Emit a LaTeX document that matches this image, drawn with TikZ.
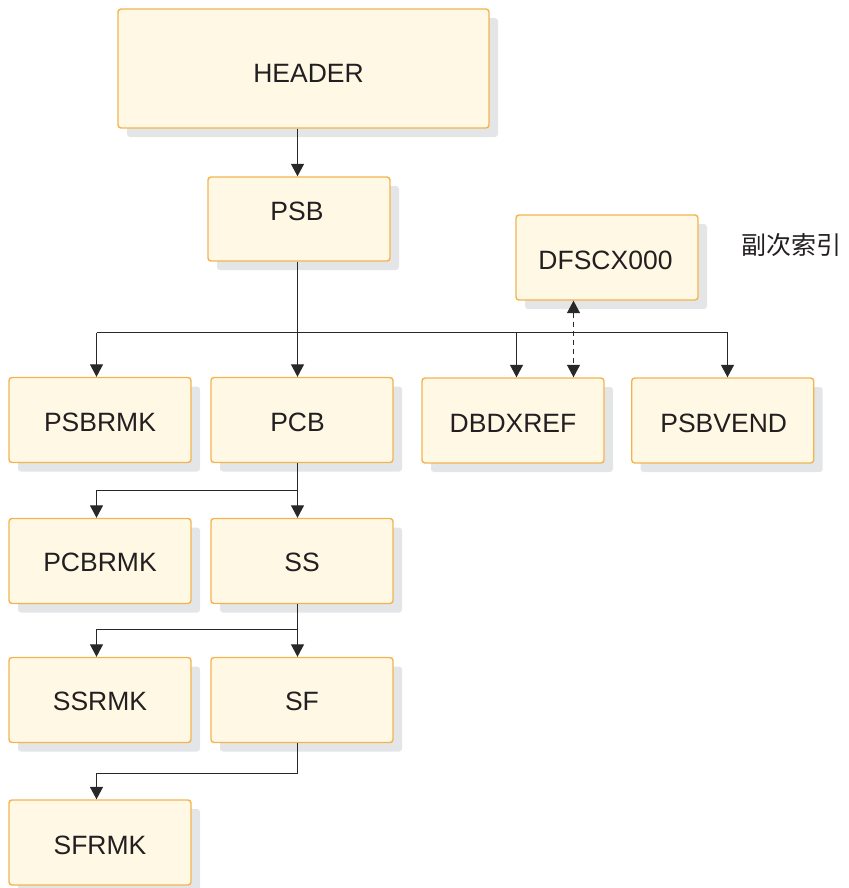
\documentclass[tikz,border=0pt]{standalone}
\usepackage{fontspec}
\setmainfont{Liberation Sans}
\newfontfamily\cjk{Noto Sans CJK SC}
\usetikzlibrary{arrows.meta,shadows}
\definecolor{boxfill}{RGB}{254,248,229}
\definecolor{boxline}{RGB}{242,180,80}
\definecolor{shadowgray}{RGB}{228,229,231}
\definecolor{ink}{RGB}{35,31,32}
\definecolor{wire}{RGB}{40,40,40}
\tikzset{
  box/.style={draw=boxline, fill=boxfill, line width=1.4pt, rounded corners=3pt,
    minimum width=182pt, minimum height=85pt, inner sep=0pt, text=ink,
    font=\fontsize{26.5}{30}\selectfont, text height=23pt, text depth=0pt,
    drop shadow={shadow xshift=9pt, shadow yshift=-9pt, fill=shadowgray, opacity=1}},
  conn/.style={draw=wire, line width=1.2pt, -{Triangle[width=13pt,length=12.5pt]}},
  wireline/.style={draw=wire, line width=1.2pt},
  dashconn/.style={draw=wire, line width=1.2pt, dash pattern=on 5pt off 4pt,
    {Triangle[width=13pt,length=12.5pt]}-{Triangle[width=13pt,length=12.5pt]}}
}
\begin{document}
\begin{tikzpicture}[x=1pt,y=-1pt]
\useasboundingbox (0,0) rectangle (848,888);
% boxes
\node[box, minimum width=371pt, minimum height=119pt, text height=28pt] (HEADER) at (303.5,68.5) {\hspace*{10pt}HEADER};
\node[box, minimum height=84pt, text height=19pt, text depth=17pt] (PSB) at (299,219) {PSB\hspace*{4pt}};
\node[box] (DFSCX) at (607,257.5) {DFSCX000\hspace*{3pt}};
\node[box] (PSBRMK) at (100,420) {PSBRMK};
\node[box] (PCB) at (302,420) {PCB\hspace*{9pt}};
\node[box] (DBDXREF) at (513,420.5) {DBDXREF};
\node[box] (PSBVEND) at (722.7,420.5) {\hspace*{2pt}PSBVEND};
\node[box, text height=20pt] (PCBRMK) at (100,561) {PCBRMK};
\node[box, text height=20pt] (SS) at (302,561) {SS};
\node[box, text height=21pt] (SSRMK) at (100,700) {SSRMK};
\node[box, text height=21pt] (SF) at (302,700) {SF};
\node[box, text height=24pt] (SFRMK) at (100,842.5) {SFRMK};
\node[text=ink, font=\cjk\fontsize{25}{28}\selectfont, inner sep=0pt] (label) at (791,245) {副次索引};
% column coordinates
\coordinate (cT) at (297.5,0);
\coordinate (cL) at (96.5,0);
\coordinate (cD) at (516.5,0);
\coordinate (cV) at (727.5,0);
\coordinate (cX) at (573.5,0);
% junctions
\coordinate (j1) at (297.5,332.5);
\coordinate (j2) at (297.5,490.5);
\coordinate (j3) at (297.5,629.5);
\coordinate (j4) at (297.5,773.5);
% connectors
\draw[conn] (HEADER.south -| cT) -- (PSB.north -| cT);
\draw[conn] (PSB.south -| cT) -- (PCB.north -| cT);
\draw[wireline] (j1 -| cL) -- (j1 -| cV);
\draw[conn] (j1 -| cL) -- (PSBRMK.north -| cL);
\draw[conn] (j1 -| cD) -- (DBDXREF.north -| cD);
\draw[conn] (j1 -| cV) -- (PSBVEND.north -| cV);
\draw[dashconn] (DFSCX.south -| cX) -- (DBDXREF.north -| cX);
\draw[conn] (PCB.south -| cT) -- (SS.north -| cT);
\draw[conn] (j2) -| (PCBRMK.north -| cL);
\draw[conn] (SS.south -| cT) -- (SF.north -| cT);
\draw[conn] (j3) -| (SSRMK.north -| cL);
\draw[wireline] (SF.south -| cT) -- (j4);
\draw[conn] (j4) -| (SFRMK.north -| cL);
\end{tikzpicture}
\end{document}
